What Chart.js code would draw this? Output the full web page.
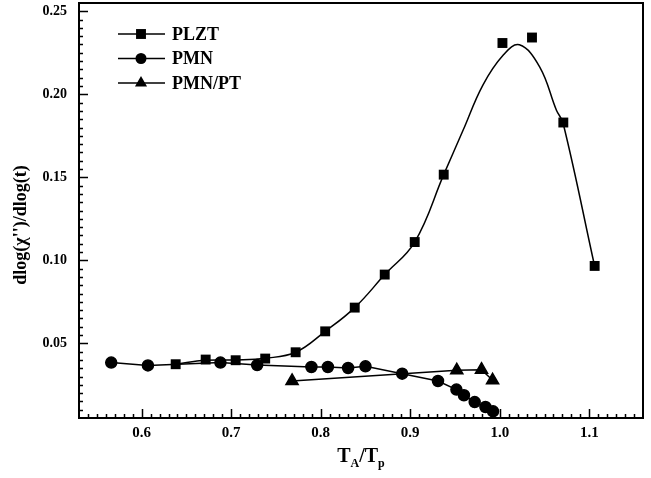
<!DOCTYPE html>
<html>
<head>
<meta charset="utf-8">
<script src="https://cdn.jsdelivr.net/npm/chart.js@4"></script>
<style>
  html, body { margin: 0; padding: 0; background: #fff; }
  #wrap { width: 651px; height: 478px; }
</style>
</head>
<body>
<div id="wrap"><canvas id="chart" width="651" height="478"></canvas></div>
<script>
// values
const plztX = [0.638, 0.6715, 0.705, 0.738, 0.772, 0.805, 0.838, 0.8715, 0.905, 0.9374, 1.003, 1.036, 1.071, 1.106];
const plztY = [0.0374, 0.0402, 0.0398, 0.0408, 0.0446, 0.0572, 0.0715, 0.0914, 0.111, 0.1516, 0.2309, 0.2342, 0.183, 0.0966];

// the smooth fit curve drawn through the PLZT points
const fitX = [0.638, 0.6715, 0.705, 0.738, 0.772, 0.805, 0.838, 0.8715, 0.905, 0.9374, 0.959, 0.981, 1.0037, 1.022, 1.0447, 1.0633, 1.0707, 1.106];
const fitY = [0.0374, 0.0398, 0.0400, 0.0410, 0.0446, 0.0572, 0.0715, 0.0914, 0.111, 0.1516, 0.1783, 0.2054, 0.2235, 0.2298, 0.2164, 0.1904, 0.1827, 0.0964];

const pmnX = [0.566, 0.607, 0.688, 0.729, 0.7896, 0.808, 0.8306, 0.850, 0.891, 0.931, 0.9516, 0.960, 0.972, 0.984, 0.9925];
const pmnY = [0.0384, 0.0367, 0.0384, 0.0369, 0.0357, 0.0357, 0.0351, 0.0361, 0.0317, 0.0273, 0.0221, 0.0187, 0.0146, 0.0116, 0.0090];

const pmnptX = [0.768, 0.952, 0.9796, 0.992];
const pmnptY = [0.0273, 0.0337, 0.0341, 0.0277];

const xTicks = [0.6, 0.7, 0.8, 0.9, 1.0, 1.1];
const yTicks = [0.05, 0.10, 0.15, 0.20, 0.25];
const legendNames = ['PLZT', 'PMN', 'PMN/PT'];
const legendStyles = ['rect', 'circle', 'triangle'];

const FONT = "'Liberation Serif', 'Times New Roman', serif";

function pts(xs, ys) { return xs.map((x, i) => ({ x: x, y: ys[i] })); }

const frame = {
    id: 'frame',
    afterDraw(chart) {
        const { ctx, chartArea: a, scales: { x, y } } = chart;
        ctx.save();
        ctx.strokeStyle = '#000';
        ctx.lineWidth = 2;
        ctx.strokeRect(a.left, a.top, a.right - a.left, a.bottom - a.top);

        // inward ticks
        ctx.lineWidth = 1.5;
        ctx.beginPath();
        for (let i = 54; i <= 116; i++) {
            const v = i / 100, px = Math.round(x.getPixelForValue(v)) + 0.5;
            if (px <= a.left || px >= a.right) continue;
            const len = (i % 10 === 0) ? 9 : 4;
            ctx.moveTo(px, a.bottom); ctx.lineTo(px, a.bottom - len);
        }
        for (let i = 2; i <= 50; i++) {
            const v = i / 200, py = Math.round(y.getPixelForValue(v)) + 0.5;
            if (py <= a.top || py >= a.bottom) continue;
            const len = (i % 10 === 0) ? 9 : 4;
            ctx.moveTo(a.left, py); ctx.lineTo(a.left + len, py);
        }
        ctx.stroke();

        // axis titles
        ctx.fillStyle = '#000';
        ctx.textBaseline = 'alphabetic';
        ctx.save();
        ctx.translate(26, 225);
        ctx.rotate(-Math.PI / 2);
        ctx.font = 'bold 18px ' + FONT;
        ctx.textAlign = 'center';
        ctx.fillText("dlog(\u03C7'')/dlog(t)", 0, 0);
        ctx.restore();

        const parts = [['T', 20, 0], ['A', 12, 5], ['/T', 20, 0], ['p', 12, 5]];
        let w = 0;
        parts.forEach(p => { ctx.font = 'bold ' + p[1] + 'px ' + FONT; w += ctx.measureText(p[0]).width; });
        let cx = (a.left + a.right) / 2 - w / 2;
        ctx.textAlign = 'left';
        parts.forEach(p => {
            ctx.font = 'bold ' + p[1] + 'px ' + FONT;
            ctx.fillText(p[0], cx, 462 + p[2]);
            cx += ctx.measureText(p[0]).width;
        });

        // legend
        ctx.font = 'bold 18px ' + FONT;
        ctx.textBaseline = 'middle';
        legendNames.forEach((name, i) => {
            const ly = 34 + i * 24.5;
            ctx.lineWidth = 1.5;
            ctx.beginPath(); ctx.moveTo(118, ly); ctx.lineTo(165, ly); ctx.stroke();
            Chart.helpers.drawPoint(ctx, { pointStyle: legendStyles[i], radius: i === 1 ? 5.5 : 7, borderWidth: 0 }, 141, ly);
            ctx.fillText(name, 172, ly + 1);
        });
        ctx.restore();
    }
};

new Chart(document.getElementById('chart'), {
    type: 'scatter',
    data: {
        datasets: [
            { label: 'PLZT fit', data: pts(fitX, fitY), showLine: true, pointRadius: 0, borderColor: '#000', borderWidth: 1.5, tension: 0.4 },
            { label: 'PLZT', data: pts(plztX, plztY), showLine: false, pointStyle: 'rect', pointRadius: 7, backgroundColor: '#000', borderColor: '#000', borderWidth: 0 },
            { label: 'PMN', data: pts(pmnX, pmnY), showLine: true, pointStyle: 'circle', pointRadius: 5.5, backgroundColor: '#000', borderColor: '#000', borderWidth: 1.5, tension: 0 },
            { label: 'PMN/PT', data: pts(pmnptX, pmnptY), showLine: true, pointStyle: 'triangle', pointRadius: 7, backgroundColor: '#000', borderColor: '#000', borderWidth: 1.5, tension: 0 }
        ]
    },
    options: {
        responsive: false,
        animation: false,
        layout: { autoPadding: false, padding: { top: 3, right: 8, left: 0, bottom: 0 } },
        plugins: { legend: { display: false }, tooltip: { enabled: false } },
        scales: {
            x: {
                type: 'linear', min: 0.53, max: 1.16,
                afterBuildTicks: s => { s.ticks = xTicks.map(v => ({ value: v })); },
                afterFit: s => { s.height = 60; s.paddingLeft = 0; s.paddingRight = 0; },
                grid: { display: false, drawTicks: false },
                border: { display: false },
                ticks: { color: '#000', padding: 6, font: { family: FONT, size: 15, weight: 'bold' }, callback: v => v.toFixed(1) }
            },
            y: {
                type: 'linear', min: 0.005, max: 0.255,
                afterBuildTicks: s => { s.ticks = yTicks.map(v => ({ value: v })); },
                afterFit: s => { s.width = 79; s.paddingTop = 0; s.paddingBottom = 0; },
                grid: { display: false, drawTicks: false },
                border: { display: false },
                ticks: { color: '#000', padding: 12, font: { family: FONT, size: 14, weight: 'bold' }, callback: v => v.toFixed(2) }
            }
        }
    },
    plugins: [frame]
});
</script>
</body>
</html>
